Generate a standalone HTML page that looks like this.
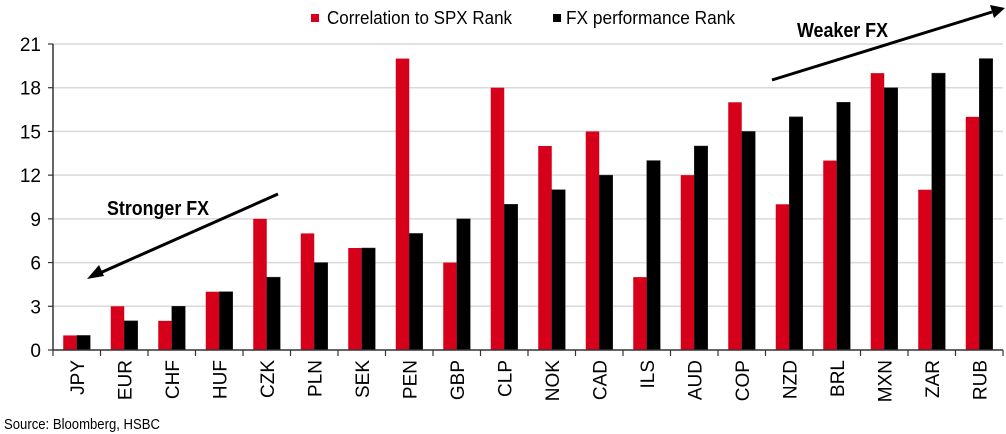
<!DOCTYPE html>
<html><head><meta charset="utf-8"><style>
html,body{margin:0;padding:0;background:#fff;}
svg{display:block;font-family:"Liberation Sans",Arial,sans-serif;}
</style></head><body>
<svg id="chart" width="1006" height="434" viewBox="0 0 1006 434" xmlns="http://www.w3.org/2000/svg">
<g id="grid"></g>
<g id="bars"></g>
<g id="axes"></g>
<g>
<rect x="311" y="14" width="8" height="8" fill="#d7001a"/>
<text x="327" y="24" font-size="18" textLength="185" lengthAdjust="spacingAndGlyphs">Correlation to SPX Rank</text>
<rect x="553" y="14" width="8" height="8" fill="#000"/>
<text x="566" y="24" font-size="18" textLength="169" lengthAdjust="spacingAndGlyphs">FX performance Rank</text>
</g>
<g>
<line x1="278" y1="194" x2="100" y2="273" stroke="#000" stroke-width="3"/>
<polygon points="87,279 99,265 104,276" fill="#000"/>
<text x="107" y="215" font-size="20" font-weight="bold" textLength="102" lengthAdjust="spacingAndGlyphs">Stronger FX</text>
</g>
<g>
<line x1="772" y1="80" x2="992" y2="12" stroke="#000" stroke-width="3"/>
<polygon points="1005,8 990,5 994,18" fill="#000"/>
<text x="797" y="37" font-size="20" font-weight="bold" textLength="91" lengthAdjust="spacingAndGlyphs">Weaker FX</text>
</g>
<text x="4" y="429" font-size="15" textLength="156" lengthAdjust="spacingAndGlyphs">Source: Bloomberg, HSBC</text>
</svg>
<script>
const categories=["JPY","EUR","CHF","HUF","CZK","PLN","SEK","PEN","GBP","CLP","NOK","CAD","ILS","AUD","COP","NZD","BRL","MXN","ZAR","RUB"];
const correlationRank=[1,3,2,4,9,8,7,20,6,18,14,15,5,12,17,10,13,19,11,16];
const fxRank=[1,2,3,4,5,6,7,8,9,10,11,12,13,14,15,16,17,18,19,20];
const yTicks=[0,3,6,9,12,15,18,21];
const NS="http://www.w3.org/2000/svg";
const x0=53,x1=1003,yBase=350,yTop=44,yMax=21;
const band=(x1-x0)/categories.length;
function y(v){return yBase-(v/yMax)*(yBase-yTop);}
function xc(i){return x0+band*(i+0.5);}
function mk(tag,attrs,parent){const e=document.createElementNS(NS,tag);for(const k in attrs)e.setAttribute(k,attrs[k]);parent.appendChild(e);return e;}
const grid=document.getElementById('grid'),bars=document.getElementById('bars'),axes=document.getElementById('axes');
yTicks.forEach(t=>{
 if(t>0){const g=mk('line',{x1:x0,x2:x1,y1:y(t),y2:y(t),stroke:'#d9d9d9','stroke-width':1.5},grid);
 
 }
 const tk=mk('line',{x1:x0-5,x2:x0,y1:y(t),y2:y(t),stroke:'#333','stroke-width':1.2},axes);
 
 
 const lb=mk('text',{x:x0-12,y:y(t)+7,'font-size':19,'text-anchor':'end'},axes);
 lb.textContent=t;
 
 
});
const bw=13.5;
categories.forEach((c,i)=>{
 const cx=xc(i);
 const r=mk('rect',{x:cx-bw,y:y(correlationRank[i]),width:bw,height:yBase-y(correlationRank[i]),fill:'#d7001a'},bars);
 
 
 const b=mk('rect',{x:cx,y:y(fxRank[i]),width:bw,height:yBase-y(fxRank[i]),fill:'#000',stroke:'#333','stroke-width':0.5},bars);
 
 
 const lb=mk('text',{x:0,y:0,'font-size':19,'text-anchor':'end',transform:`translate(${cx+7},360) rotate(-90)`},axes);
 lb.textContent=c;
 
 
});
for(let i=0;i<=categories.length;i++){
 const t=mk('line',{x1:x0+band*i,x2:x0+band*i,y1:yBase,y2:yBase+6,stroke:'#333','stroke-width':1.2},axes);
 
 
}
const ya=mk('line',{x1:x0,x2:x0,y1:yTop,y2:yBase,stroke:'#333','stroke-width':1.5},axes);


const xa=mk('line',{x1:x0,x2:x1,y1:yBase,y2:yBase,stroke:'#333','stroke-width':1.5},axes);


</script>
</body></html>
